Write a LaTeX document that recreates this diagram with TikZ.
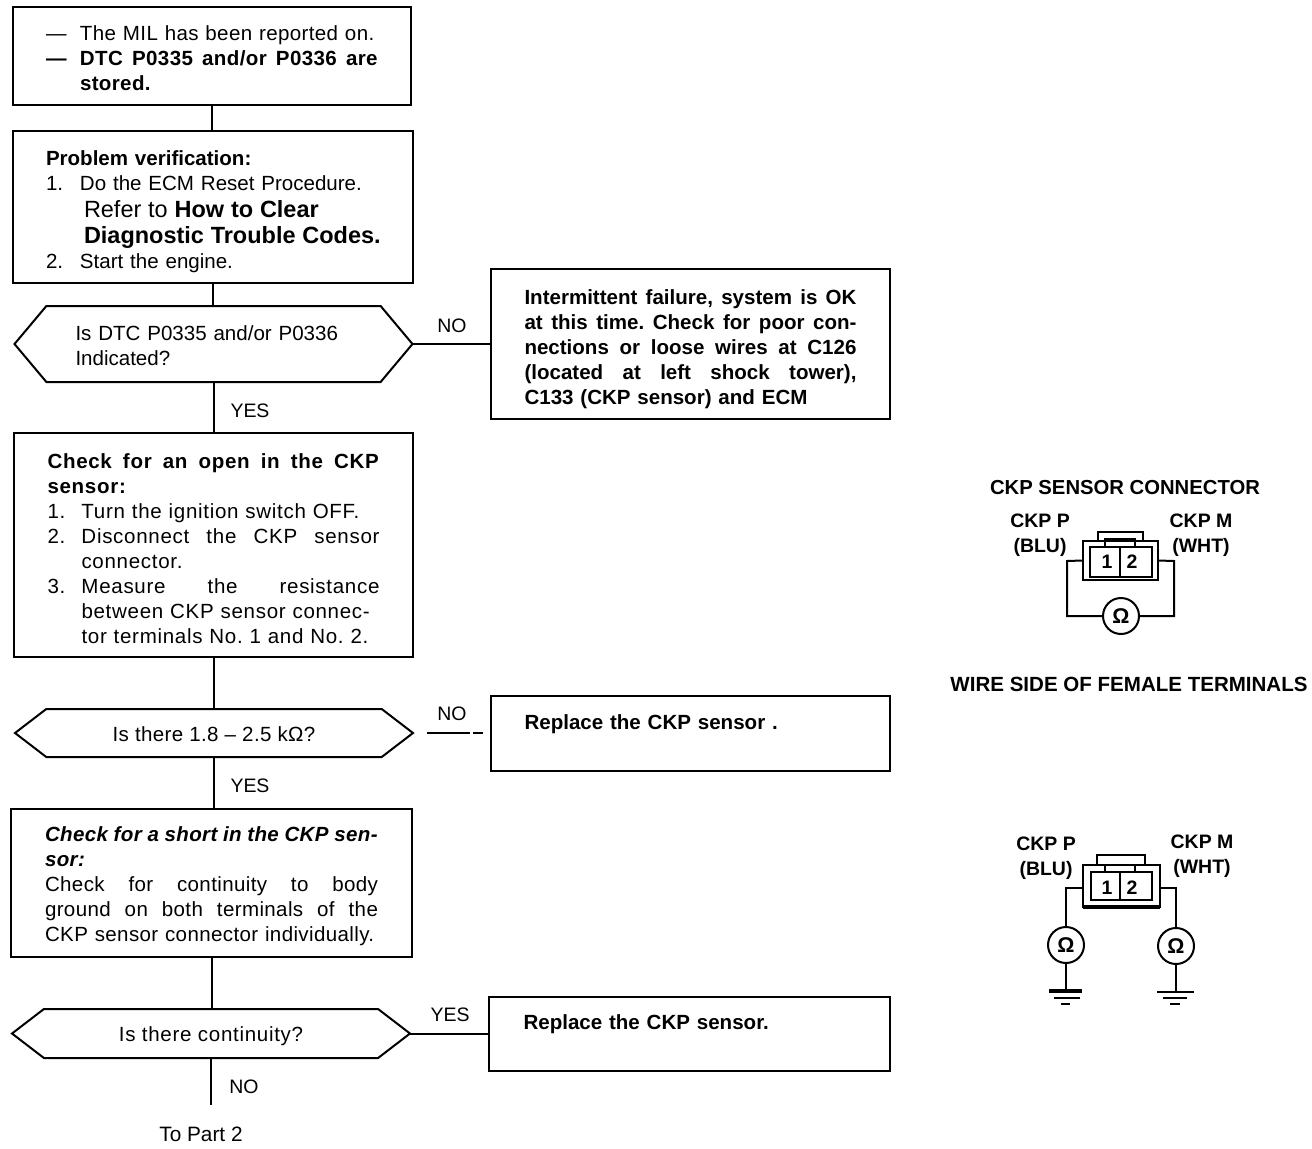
\documentclass[tikz,border=0pt]{standalone}
\usepackage{fontspec}
\setmainfont{Liberation Sans}
\newfontfamily\midfont[LetterSpace=1.8]{Liberation Sans}
\newfontfamily\widefont[LetterSpace=3.4]{Liberation Sans}
\usetikzlibrary{shapes.symbols}
\tikzset{
  flowline/.style={line width=1.5pt},
  boxsize/.style n args={3}{minimum width=#1*0.75pt, minimum height=#2*0.75pt, text width=#3*0.75pt},
  flowbox/.style={rectangle, draw, line width=1.5pt, inner sep=0pt, outer sep=0pt, anchor=north west, align=left, font=\fontsize{15.4}{18.75}\selectfont},
  flowhex/.style={signal, signal to=west and east, signal pointer angle=75, draw, line width=1.5pt, inner sep=0pt, outer sep=0pt, font=\fontsize{15.4}{18.75}\selectfont},
  answer/.style={inner sep=0pt, font=\fontsize{14.6}{16}\selectfont},
  pinlabel/.style={inner sep=0pt, font=\bfseries\fontsize{14.6}{18.75}\selectfont},
  meter/.style={circle, draw, line width=1.5pt, inner sep=0pt, outer sep=0pt, minimum size=27pt, font=\bfseries\fontsize{16}{16}\selectfont},
  conbody/.style={rectangle, draw, line width=1.5pt, inner sep=0pt, outer sep=0pt},
}
\newlength{\itemgap}
\setlength{\itemgap}{25.5pt}
\newcommand{\fullline}[1]{\leavevmode\hbox to \hsize{\spaceskip=0pt\xspaceskip=0pt\relax #1}}
\newcommand{\numline}[2]{\leavevmode\hbox to \itemgap{#1\hfil}#2}
\newcommand{\numfull}[2]{\leavevmode\hbox to \itemgap{#1\hfil}\hbox to \dimexpr\hsize-\itemgap\relax{\spaceskip=0pt\xspaceskip=0pt\relax #2}}
\newcommand{\contline}[1]{\leavevmode\hspace*{\itemgap}#1}
\newcommand{\lowered}[2]{\raisebox{-#1}[\height][\depth]{#2}}
\newcommand{\lift}[1]{\rule{0pt}{\dimexpr 11pt+#1\relax}}
\begin{document}
\frenchspacing
\begin{tikzpicture}[x=0.75pt, y=-0.75pt]
  \useasboundingbox (0, 0) rectangle (1312, 1148);
  % left column
  \node (verify) [flowbox, boxsize={398}{98}{332}] at (13, 7) {%
    \midfont\lift{3pt}%
    \numline{—}{The MIL has been reported on.}\\
    \numfull{\textbf{—}}{\textbf{DTC P0335 and/or P0336 are}}\\
    \contline{\textbf{stored.}}};
  \node (check) [flowbox, boxsize={400}{152}{334}] at (13, 131) {%
    \lift{7.5pt}%
    \textbf{Problem verification:}\\
    \numline{1.}{Do the ECM Reset Procedure.}\\[1pt]
    \mbox{\hspace*{28.5pt}\fontsize{17.6}{20}\selectfont Refer to \textbf{How to Clear}}\\[1pt]
    \mbox{\hspace*{28.5pt}\fontsize{17.6}{20}\selectfont\textbf{Diagnostic Trouble Codes.}}\\
    \numline{2.}{Start the engine.}};
  \node (dtc) [flowhex, signal pointer angle=100, minimum width=398*0.75pt, minimum height=76*0.75pt, text width=276*0.75pt, align=left] at (213.5, 344) {%
    \lift{3pt}%
    Is DTC P0335 and/or P0336\\Indicated?};
  \node (open) [flowbox, boxsize={399}{224}{332}] at (14, 433) {%
    \widefont\lift{5pt}%
    \fullline{\textbf{Check for an open in the CKP}}\\
    \textbf{sensor:}\\
    \numline{1.}{Turn the ignition switch OFF.}\\
    \numfull{2.}{Disconnect the CKP sensor}\\
    \contline{connector.}\\
    \numfull{3.}{Measure the resistance}\\
    \contline{between CKP sensor connec-}\\
    \contline{tor terminals No. 1 and No. 2.}};
  \node (resist) [flowhex, minimum width=398*0.75pt, minimum height=48*0.75pt, align=center] at (214, 733) {\lowered{0.75pt}{\midfont Is there 1.8 – 2.5 kΩ?}};
  \node (short) [flowbox, boxsize={401}{148}{333}] at (11, 809) {%
    \midfont\lift{5pt}%
    \fullline{\textbf{\textit{Check for a short in the CKP sen-}}}\\
    \textbf{\textit{sor:}}\\
    \fullline{Check for continuity to body}\\
    \fullline{ground on both terminals of the}\\
    CKP sensor connector individually.};
  \node (cont) [flowhex, minimum width=398*0.75pt, minimum height=49*0.75pt, align=center] at (211, 1033.5) {\lowered{2pt}{\widefont Is there continuity?}};
  \coordinate (partend) at (212, 1105);
  \node (part2) [answer, font=\fontsize{15.6}{16}\selectfont] at (201, 1134) {To Part 2};
  % right column
  \node (fail) [flowbox, boxsize={399}{150}{332}] at (491, 269) {%
    \lift{7.5pt}%
    \fullline{\textbf{Intermittent failure, system is OK}}\\
    \fullline{\textbf{at this time. Check for poor con-}}\\
    \fullline{\textbf{nections or loose wires at C126}}\\
    \fullline{\textbf{(located at left shock tower),}}\\
    \textbf{C133 (CKP sensor) and ECM}};
  \node (replaceA) [flowbox, boxsize={399}{75}{332}] at (491, 696) {%
    \textbf{Replace the CKP sensor .}\\[-1pt]\mbox{}};
  \node (replaceB) [flowbox, boxsize={401}{74}{332}] at (489, 997) {%
    \textbf{Replace the CKP sensor.}\\[-1pt]\mbox{}};
  % connectors
  \draw[flowline] (verify.south) -- (verify.south |- check.north);
  \draw[flowline] (check.south) -- (check.south |- dtc.north);
  \draw[flowline] (dtc.south) -- (dtc.south |- open.north);
  \draw[flowline] (open.south) -- (open.south |- resist.north);
  \draw[flowline] (resist.south) -- (resist.south |- short.north);
  \draw[flowline] (short.south) -- (short.south |- cont.north);
  \draw[flowline] (cont.south) -- (cont.south |- partend);
  \draw[flowline] (dtc.east) -- (dtc.east -| fail.west);
  \draw[flowline, dash pattern=on 0pt off 10.5pt on 32pt off 2.5pt on 7.5pt off 5pt] (resist.east) -- (resist.east -| replaceA.west);
  \draw[flowline] (cont.east) -- (cont.east -| replaceB.west);
  \node (no1) [answer] at (452, 326) {NO};
  \node (yes1) [answer] at (250, 411) {YES};
  \node (no2) [answer] at (452, 714) {NO};
  \node (yes2) [answer] at (250, 786) {YES};
  \node (yes3) [answer] at (450, 1015) {YES};
  \node (no3) [answer] at (244, 1087) {NO};
  % resistance between the terminals
  \node (title) [pinlabel, font=\bfseries\fontsize{15.2}{18}\selectfont] at (1125, 488) {CKP SENSOR CONNECTOR};
  \node (pinP) [pinlabel, align=center] at (1040, 535) {CKP P\\(BLU)};
  \node (pinM) [pinlabel, align=center] at (1201, 535) {CKP M\\(WHT)};
  \node (bodyA) [conbody, minimum width=56.25pt, minimum height=29.25pt] at (1120.5, 560.5) {};
  \draw[flowline] (1098, 541) -- (1098, 532) -- (1143, 532) -- (1143, 541);
  \draw[line width=0.9pt] (1105, 547) -- (1105, 539) -- (1135, 539) -- (1135, 547);
  \draw[line width=0.9pt] (1090, 547) rectangle (1152, 577) (1120, 547) -- (1120, 577);
  \node (numA1) [pinlabel] at (1107, 562) {1};
  \node (numA2) [pinlabel] at (1132, 562) {2};
  \node (ohmA) [meter] at (1121, 616) {Ω};
  \draw[flowline] (bodyA.west) -- (1067, 561) |- (ohmA.west);
  \draw[flowline] (bodyA.east) -- (1174, 561) |- (ohmA.east);
  \node (side) [pinlabel, font=\bfseries\fontsize{15.4}{18}\selectfont] at (1129, 684) {WIRE SIDE OF FEMALE TERMINALS};
  % continuity to body ground
  \node (pinPb) [pinlabel, align=center] at (1046, 858) {CKP P\\(BLU)};
  \node (pinMb) [pinlabel, align=center] at (1202, 856) {CKP M\\(WHT)};
  \node (bodyB) [conbody, minimum width=57.75pt, minimum height=31.5pt] at (1121.5, 886) {};
  \draw[line width=2.4pt] (1083, 907) -- (1160, 907);
  \draw[flowline] (1097, 865) -- (1097, 855) -- (1145, 855) -- (1145, 865);
  \draw[line width=0.9pt] (1091, 872) rectangle (1152, 900) (1120, 872) -- (1120, 900);
  \draw[line width=0.9pt] (1105, 872) -- (1105, 866) (1135, 866) -- (1135, 872);
  \node (numB1) [pinlabel] at (1107, 888) {1};
  \node (numB2) [pinlabel] at (1132, 888) {2};
  \node (ohmP) [meter] at (1066, 945) {Ω};
  \node (ohmM) [meter] at (1176, 946) {Ω};
  \coordinate (gndP) at (1066, 991);
  \coordinate (gndM) at (1176, 992);
  \draw[flowline] (bodyB.west |- 0, 888) -| (ohmP.north);
  \draw[flowline] (bodyB.east |- 0, 888) -| (ohmM.north);
  \draw[flowline] (ohmP.south) -- (gndP);
  \draw[flowline] (ohmM.south) -- (gndM);
  \draw[line width=2.6pt] (1049, 991) -- (1082, 991);
  \draw[line width=2pt] (1054, 998) -- (1080, 998);
  \draw[line width=2pt] (1061, 1004) -- (1070, 1004);
  \draw[flowline] (1157, 992) -- (1194, 992);
  \draw[flowline] (1163, 998) -- (1187, 998);
  \draw[flowline] (1170, 1004) -- (1180, 1004);
\end{tikzpicture}
\end{document}
